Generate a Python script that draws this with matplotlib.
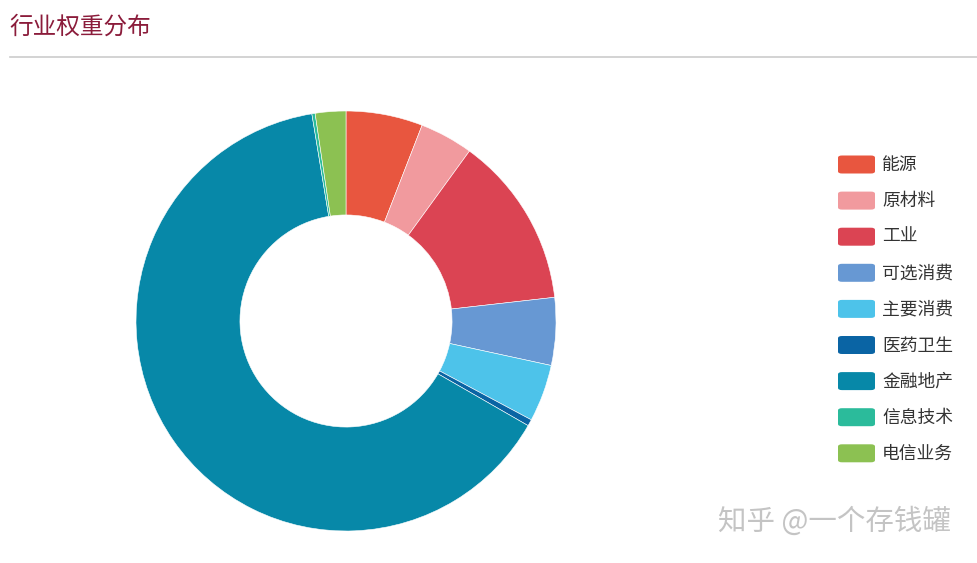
import matplotlib.pyplot as plt
from matplotlib.patches import FancyBboxPatch
from matplotlib.lines import Line2D

plt.rcParams['font.family'] = ['Noto Sans CJK SC', 'DejaVu Sans']

sectors = ['能源', '原材料', '工业', '可选消费', '主要消费', '医药卫生', '金融地产', '信息技术', '电信业务']
weights = [5.9, 4.1, 13.2, 5.2, 4.4, 0.5, 64.1, 0.25, 2.35]
colors = ['#E8563F', '#F19A9E', '#DB4453', '#6798D3', '#4DC3EA', '#0A64A4', '#0788A8', '#2BBB9B', '#8CC152']

W, H = 977, 563
fig = plt.figure(figsize=(W / 100, H / 100), dpi=100)

# title and rule
fig.text(9 / W, 1 - 27 / H, '行业权重分布', fontsize=17, color='#8B1C3B', va='center', ha='left')
fig.add_artist(Line2D([10 / W, 1], [1 - 57 / H, 1 - 57 / H], color='#cccccc', lw=1.2))

# donut
cx, cy, r = 346, 321, 210
ax = fig.add_axes([(cx - r) / W, (H - cy - r) / H, 2 * r / W, 2 * r / H])
ax.pie(weights, colors=colors, startangle=90, counterclock=False, radius=1,
       wedgeprops=dict(width=0.495, edgecolor='white', linewidth=0.4))
ax.set_xlim(-1, 1)
ax.set_ylim(-1, 1)
ax.set_aspect('equal')
ax.axis('off')

# legend
for i, (name, c) in enumerate(zip(sectors, colors)):
    yc = 164.5 + i * 36.1
    box = FancyBboxPatch((838 / W, 1 - (yc + 9) / H), 37 / W, 18 / H,
                         boxstyle='round,pad=0,rounding_size=0.004',
                         transform=fig.transFigure, facecolor=c, edgecolor='none')
    fig.add_artist(box)
    fig.text(882 / W, 1 - (yc + 0.5) / H, name, fontsize=12.8, color='#333333', va='center', ha='left')

# watermark
fig.text(951 / W, 1 - 522 / H, '知乎 @一个存钱罐', fontsize=20.5, color='#c4c4c4',
         va='center', ha='right')

fig.savefig('out.png', dpi=100, facecolor='white')
